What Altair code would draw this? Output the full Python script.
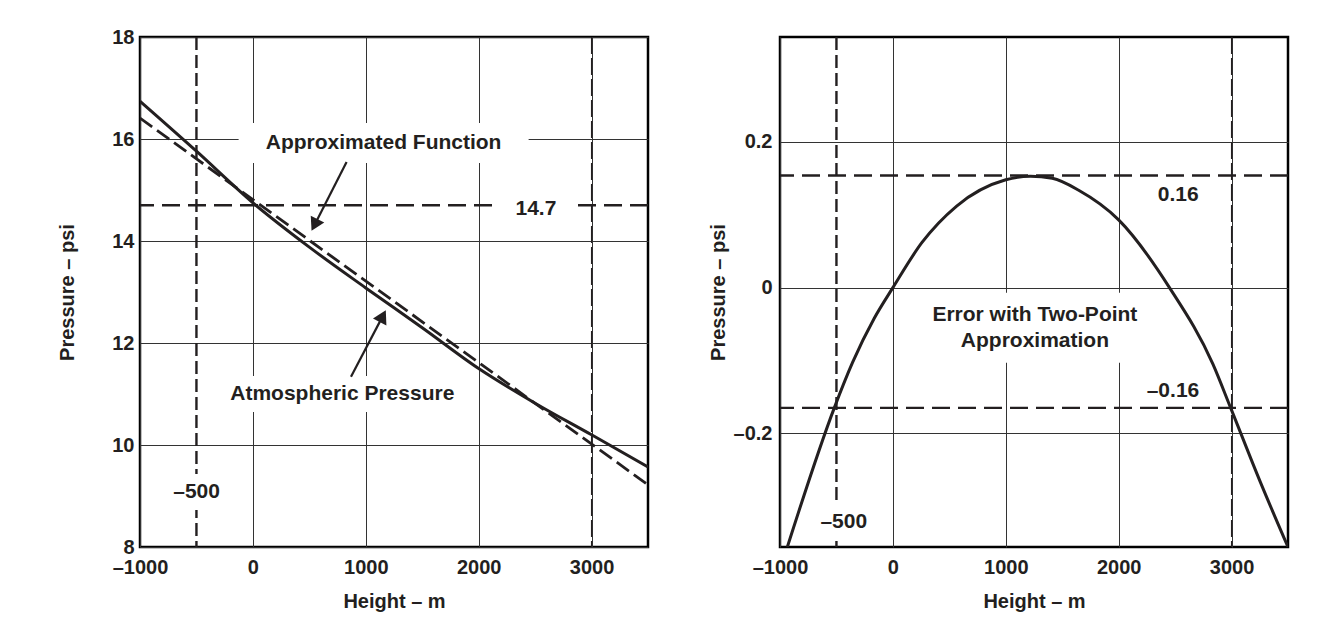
import math
import altair as alt
import pandas as pd

FONT = "Liberation Sans"
INK = "#231f20"

# ---------------- data ----------------
# Left panel: atmospheric pressure vs height
atm_x = [-1000, -500, 0, 500, 1000, 1500, 2000, 2500, 3000, 3500]
atm_p = [16.74, 15.76, 14.75, 13.88, 13.08, 12.30, 11.50, 10.82, 10.20, 9.57]
# Approximated (two-point linear) function
approx_x = [-1000, 3500]
approx_p = [16.41, 9.22]
left_level = [14.7]

# Right panel: error of two-point approximation
err_x = [-935, -519, -358, -165, 0, 258, 565, 1000, 1219, 1412, 1642, 2000,
         2450, 2835, 2992, 3258, 3500]
err_p = [-0.356, -0.165, -0.103, -0.042, 0.0, 0.062, 0.112, 0.148, 0.153,
         0.150, 0.134, 0.093, 0.0, -0.105, -0.165, -0.268, -0.356]
right_levels = [0.154, -0.165]

marker_x = [-500, 3000]

x_ticks = [-1000, 0, 1000, 2000, 3000]
left_y_ticks = [8, 10, 12, 14, 16, 18]
right_y_ticks = [-0.2, 0, 0.2]

X_DOM = [-1000, 3500]
LEFT_Y_DOM = [8, 18]
RIGHT_Y_DOM = [-0.356, 0.344]

# annotations
left_text = ["Approximated Function", "Atmospheric Pressure", "14.7", "–500"]
left_text_x = [1158, 792, 2507, -499]
left_text_y = [15.92, 11.0, 14.62, 9.08]
left_box_w = [290, 240, 74, 50]
left_box_h = [40, 36, 24, 36]

right_text = ["Error with Two-Point", "Approximation", "0.16", "–0.16", "–500"]
right_text_x = [1258, 1258, 2527, 2481, -435]
right_text_y = [-0.037, -0.073, 0.127, -0.142, -0.321]
right_box_x = [1258, -435]
right_box_y = [-0.055, -0.321]
right_box_w = [240, 50]
right_box_h = [70, 36]

# arrows (tail -> tip)
arrow_x0 = [830, 869]
arrow_y0 = [15.55, 11.34]
arrow_x1 = [520, 1177]
arrow_y1 = [14.2, 12.64]

# ---------------- layout ----------------
W = 508
H = 510


def box_df(xs, ys, ws, hs):
    rows = []
    for x, y, w, h in zip(xs, ys, ws, hs):
        r = h / w
        rows.append({"x": x, "y": y, "sz": w * w,
                     "shp": f"M-1,-{r:.4f}H1V{r:.4f}H-1Z"})
    return pd.DataFrame(rows)


def x_enc():
    return alt.X("x:Q", scale=alt.Scale(domain=X_DOM, nice=False, zero=False),
                 axis=alt.Axis(values=x_ticks, title="Height – m",
                               labelExpr="datum.value < 0 ? '–' + format(-datum.value, 'd') : format(datum.value, 'd')",
                               labelPadding=10, titlePadding=14,
                               labelOverlap=False, labelFlush=False))


def y_left():
    return alt.Y("y:Q", scale=alt.Scale(domain=LEFT_Y_DOM, nice=False, zero=False),
                 axis=alt.Axis(values=left_y_ticks, title="Pressure – psi", format="d",
                               labelPadding=6, titlePadding=34, labelOverlap=False))


def y_right():
    return alt.Y("y:Q", scale=alt.Scale(domain=RIGHT_Y_DOM, nice=False, zero=False),
                 axis=alt.Axis(values=right_y_ticks, title="Pressure – psi",
                               labelExpr="datum.value == 0 ? '0' : (datum.value < 0 ? '–' + format(-datum.value, '.1f') : format(datum.value, '.1f'))",
                               labelPadding=8, titlePadding=5, labelOverlap=False))


def vmarkers():
    d1 = pd.DataFrame({"x": [marker_x[0]]})
    d2 = pd.DataFrame({"x": [marker_x[1]]})
    r1 = alt.Chart(d1).mark_rule(color=INK, strokeWidth=2.4, strokeDash=[13, 5]).encode(x=x_enc())
    r2 = alt.Chart(d2).mark_rule(color=INK, strokeWidth=1.2, strokeDash=[17, 4]).encode(x=x_enc())
    return r1, r2


# ---------------- left panel ----------------
atm_df = pd.DataFrame({"x": atm_x, "y": atm_p})
apx_df = pd.DataFrame({"x": approx_x, "y": approx_p})
ppx = W / (X_DOM[1] - X_DOM[0])
ppy = H / (LEFT_Y_DOM[1] - LEFT_Y_DOM[0])

arrow_rows = []
head_rows = []
for x0, y0, x1, y1 in zip(arrow_x0, arrow_y0, arrow_x1, arrow_y1):
    dxp = (x1 - x0) * ppx
    dyp = -(y1 - y0) * ppy
    L = math.hypot(dxp, dyp)
    ux, uy = dxp / L, dyp / L
    ang = math.degrees(math.atan2(ux, -uy)) % 360
    back = 6.5
    cx = x1 - back * ux / ppx
    cy = y1 + back * uy / ppy
    arrow_rows.append({"x": x0, "y": y0, "x2": cx, "y2": cy})
    head_rows.append({"x": cx, "y": cy, "ang": ang})
arrow_df = pd.DataFrame(arrow_rows)
head_df = pd.DataFrame(head_rows)

lv_df = pd.DataFrame({"y": left_level})
lbox = box_df(left_text_x, left_text_y, left_box_w, left_box_h)
ltxt = pd.DataFrame({"x": left_text_x, "y": left_text_y, "t": left_text})

lr1, lr2 = vmarkers()
l_level = alt.Chart(lv_df).mark_rule(color=INK, strokeWidth=2.4, strokeDash=[18, 8]).encode(y=y_left())
l_box = alt.Chart(lbox).mark_point(filled=True, color="white", opacity=1, strokeWidth=0).encode(
    x=x_enc(), y=y_left(), size=alt.Size("sz:Q", scale=None), shape=alt.Shape("shp:N", scale=None))
l_atm = alt.Chart(atm_df).mark_line(color=INK, strokeWidth=3, interpolate="monotone", clip=True).encode(
    x=x_enc(), y=y_left())
l_apx = alt.Chart(apx_df).mark_line(color=INK, strokeWidth=2.8, strokeDash=[15, 6], clip=True).encode(
    x=x_enc(), y=y_left())
l_arrow = alt.Chart(arrow_df).mark_rule(color=INK, strokeWidth=2.2).encode(
    x=x_enc(), y=y_left(), x2="x2:Q", y2="y2:Q")
l_head = alt.Chart(head_df).mark_point(shape="triangle-up", filled=True, color=INK, opacity=1, size=230).encode(
    x=x_enc(), y=y_left(), angle=alt.Angle("ang:Q", scale=None))
l_text = alt.Chart(ltxt).mark_text(font=FONT, fontSize=21, fontWeight="bold", color=INK).encode(
    x=x_enc(), y=y_left(), text="t:N")

left = alt.layer(lr1, lr2, l_level, l_box, l_atm, l_apx, l_arrow, l_head, l_text).properties(width=W, height=H)

# ---------------- right panel ----------------
err_df = pd.DataFrame({"x": err_x, "y": err_p})
rv_df = pd.DataFrame({"y": right_levels})
rbox = box_df(right_box_x, right_box_y, right_box_w, right_box_h)
rtxt = pd.DataFrame({"x": right_text_x, "y": right_text_y, "t": right_text})

rr1, rr2 = vmarkers()
r_level = alt.Chart(rv_df).mark_rule(color=INK, strokeWidth=2.4, strokeDash=[18, 8]).encode(y=y_right())
r_box = alt.Chart(rbox).mark_point(filled=True, color="white", opacity=1, strokeWidth=0).encode(
    x=x_enc(), y=y_right(), size=alt.Size("sz:Q", scale=None), shape=alt.Shape("shp:N", scale=None))
r_err = alt.Chart(err_df).mark_line(color=INK, strokeWidth=3, interpolate="monotone", clip=True).encode(
    x=x_enc(), y=y_right())
r_text = alt.Chart(rtxt).mark_text(font=FONT, fontSize=21, fontWeight="bold", color=INK).encode(
    x=x_enc(), y=y_right(), text="t:N")

right = alt.layer(rr1, rr2, r_level, r_box, r_err, r_text).properties(width=W, height=H)

chart = alt.hconcat(left, right, spacing=132, bounds="flush").configure(
    padding={"left": 48, "top": 17, "right": 5, "bottom": 5},
    background="white",
).configure_view(
    stroke="black", strokeWidth=2.5
).configure_axis(
    grid=True, gridColor="#333333", gridWidth=1, domain=False, ticks=False,
    labelFont=FONT, labelFontSize=20, labelFontWeight="bold", labelColor=INK,
    titleFont=FONT, titleFontSize=20, titleFontWeight="bold", titleColor=INK,
)

chart.save("out.html", embed_options={"renderer": "svg", "actions": False})
